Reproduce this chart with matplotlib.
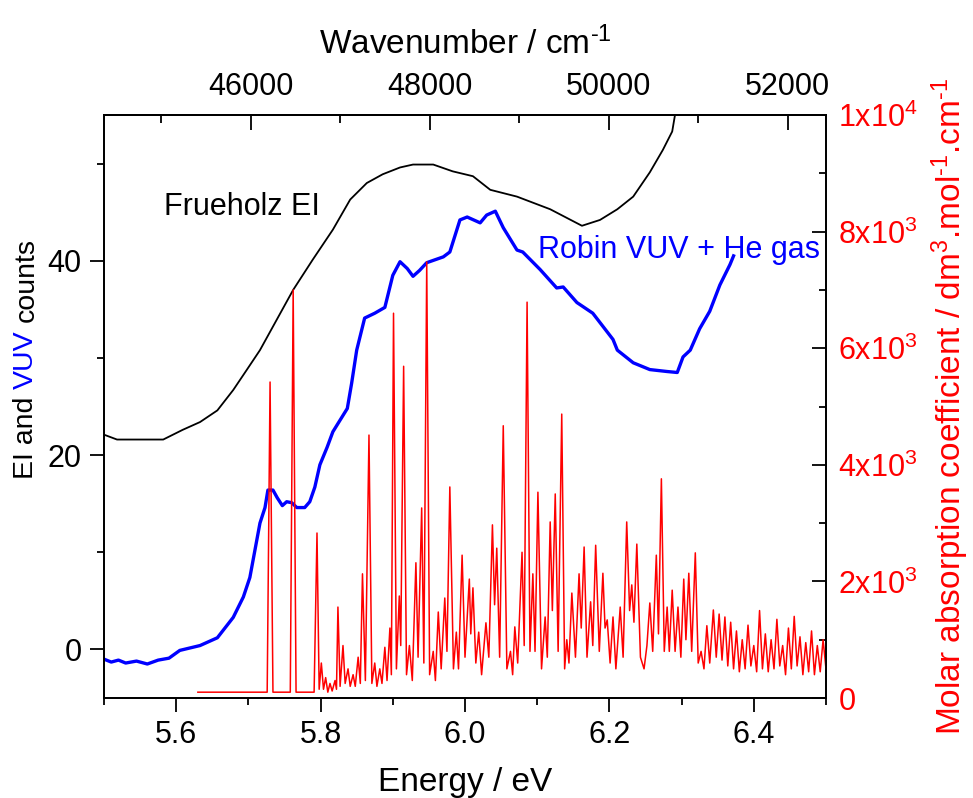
import matplotlib
matplotlib.use("Agg")
import matplotlib.pyplot as plt
from matplotlib.ticker import MultipleLocator, FixedLocator, FixedFormatter

plt.rcParams['font.family'] = 'Liberation Sans'
plt.rcParams['mathtext.fontset'] = 'custom'
plt.rcParams['mathtext.rm'] = 'Liberation Sans'
plt.rcParams['mathtext.it'] = 'Liberation Sans'

# Frueholz electron impact spectrum (counts)
ei_energy = [5.500, 5.518, 5.582, 5.609, 5.633, 5.657, 5.679, 5.698, 5.716, 5.762,
             5.789, 5.817, 5.841, 5.864, 5.886, 5.910, 5.928, 5.956, 5.983, 6.011,
             6.035, 6.072, 6.118, 6.162, 6.187, 6.211, 6.233, 6.256, 6.274, 6.287, 6.292]
ei_counts = [22.1, 21.6, 21.6, 22.6, 23.4, 24.6, 26.7, 28.8, 30.8, 37.0,
             40.1, 43.2, 46.3, 48.0, 48.9, 49.6, 49.9, 49.9, 49.2, 48.7,
             47.3, 46.6, 45.3, 43.6, 44.2, 45.3, 46.6, 49.1, 51.4, 53.3, 55.5]

# Robin VUV spectrum with He gas (counts)
vuv_energy = [5.500, 5.510, 5.520, 5.530, 5.545, 5.560, 5.575, 5.590, 5.605, 5.633,
              5.657, 5.679, 5.693, 5.702, 5.709, 5.716, 5.723, 5.727, 5.734, 5.740,
              5.747, 5.753, 5.760, 5.767, 5.778, 5.785, 5.792, 5.799, 5.809, 5.817,
              5.827, 5.837, 5.843, 5.850, 5.861, 5.875, 5.889, 5.900, 5.910, 5.920,
              5.928, 5.937, 5.947, 5.970, 5.979, 5.993, 6.003, 6.021, 6.030, 6.042,
              6.053, 6.072, 6.080, 6.104, 6.127, 6.136, 6.155, 6.177, 6.205, 6.211,
              6.233, 6.256, 6.280, 6.294, 6.302, 6.312, 6.325, 6.339, 6.353, 6.367, 6.372]
vuv_counts = [-1.0, -1.3, -1.1, -1.4, -1.2, -1.5, -1.1, -0.9, -0.1, 0.4,
              1.2, 3.3, 5.4, 7.4, 10.2, 13.0, 14.6, 16.4, 16.4, 15.6,
              14.8, 15.2, 15.1, 14.6, 14.6, 15.2, 16.7, 19.0, 20.8, 22.4,
              23.6, 24.8, 27.4, 30.8, 34.1, 34.6, 35.2, 38.5, 39.9, 39.2,
              38.4, 39.0, 39.8, 40.4, 40.9, 44.2, 44.5, 43.9, 44.7, 45.1,
              43.4, 41.1, 40.9, 39.1, 37.2, 37.3, 35.7, 34.6, 31.9, 30.8,
              29.5, 28.8, 28.6, 28.5, 30.1, 30.8, 33.0, 34.8, 37.5, 39.6, 40.5]

# calculated absorption spectrum: peak tops and troughs (dm3 mol-1 cm-1)
abs_energy = [5.630, 5.726, 5.730, 5.734, 5.758, 5.762, 5.766, 5.791, 5.795, 5.798,
              5.801, 5.804, 5.807, 5.810, 5.813, 5.816, 5.820, 5.822, 5.824, 5.827,
              5.831, 5.834, 5.838, 5.841, 5.845, 5.848, 5.852, 5.855, 5.858, 5.862,
              5.867, 5.871, 5.875, 5.878, 5.882, 5.885, 5.889, 5.892, 5.896, 5.898,
              5.901, 5.905, 5.909, 5.911, 5.915, 5.919, 5.923, 5.927, 5.932, 5.935,
              5.940, 5.943, 5.947, 5.951, 5.956, 5.959, 5.963, 5.967, 5.972, 5.975,
              5.979, 5.984, 5.988, 5.991, 5.996, 6.000, 6.006, 6.008, 6.011, 6.015,
              6.019, 6.023, 6.029, 6.033, 6.038, 6.041, 6.044, 6.048, 6.053, 6.058,
              6.063, 6.066, 6.069, 6.073, 6.079, 6.082, 6.086, 6.090, 6.094, 6.097,
              6.101, 6.106, 6.111, 6.114, 6.118, 6.121, 6.125, 6.129, 6.134, 6.138,
              6.141, 6.144, 6.148, 6.153, 6.158, 6.161, 6.165, 6.169, 6.174, 6.177,
              6.181, 6.186, 6.191, 6.194, 6.197, 6.201, 6.205, 6.209, 6.215, 6.219,
              6.224, 6.228, 6.231, 6.234, 6.238, 6.243, 6.248, 6.252, 6.256, 6.260,
              6.265, 6.268, 6.272, 6.276, 6.280, 6.283, 6.287, 6.291, 6.295, 6.299,
              6.303, 6.306, 6.310, 6.314, 6.319, 6.323, 6.327, 6.331, 6.335, 6.339,
              6.344, 6.348, 6.352, 6.356, 6.360, 6.364, 6.368, 6.372, 6.376, 6.380,
              6.384, 6.388, 6.392, 6.396, 6.400, 6.404, 6.408, 6.412, 6.416, 6.420,
              6.424, 6.428, 6.432, 6.436, 6.440, 6.444, 6.448, 6.452, 6.456, 6.460,
              6.464, 6.468, 6.472, 6.476, 6.480, 6.484, 6.488, 6.492, 6.496, 6.500]
abs_coeff = [100, 100, 5420, 100, 100, 7000, 100, 100, 2830, 150,
             600, 150, 350, 100, 250, 120, 300, 150, 1560, 200,
             900, 250, 500, 200, 400, 200, 700, 250, 2130, 300,
             4510, 250, 600, 200, 500, 250, 870, 300, 1200, 400,
             6600, 500, 1750, 900, 5690, 400, 900, 300, 2320, 700,
             3260, 600, 7480, 400, 800, 300, 1475, 500, 1715, 800,
             3620, 500, 1130, 500, 2450, 700, 2040, 1100, 1890, 600,
             1130, 400, 1290, 700, 2970, 1600, 2570, 700, 4670, 500,
             800, 400, 1220, 600, 2500, 900, 6790, 800, 2130, 800,
             3530, 500, 1390, 700, 3020, 1500, 3500, 800, 4870, 500,
             1000, 600, 1800, 700, 2130, 1200, 2590, 700, 1650, 900,
             2620, 800, 2140, 1200, 1340, 600, 1390, 500, 1560, 700,
             3020, 1500, 1940, 1300, 2640, 700, 500, 900, 1630, 800,
             2450, 1100, 3760, 800, 1560, 800, 1850, 800, 1560, 700,
             2040, 1000, 2140, 800, 2490, 600, 800, 500, 1240, 600,
             1510, 700, 1440, 650, 1390, 550, 1300, 500, 1150, 450,
             1000, 500, 1250, 550, 900, 450, 1500, 500, 1100, 450,
             1000, 500, 1350, 550, 900, 400, 1200, 500, 1400, 550,
             1050, 400, 950, 450, 1150, 400, 900, 450, 1000, 500]

EV_TO_CM = 8065.54

fig = plt.figure(figsize=(9.73, 7.98), dpi=100)
ax = fig.add_axes([0.1069, 0.1253, 0.7420, 0.7306])
ax2 = ax.twinx()

ax.plot(ei_energy, ei_counts, color='black', lw=1.3)
ax.plot(vuv_energy, vuv_counts, color='#0000ff', lw=2.4)
ax2.plot(abs_energy, abs_coeff, color='#ff0000', lw=1.1)

ax.set_xlim(5.5, 6.5)
ax.set_ylim(-5, 55)
ax2.set_ylim(0, 10000)

fs = 22        # tick labels and curve names
fs_title = 24  # axis titles

ax.xaxis.set_minor_locator(MultipleLocator(0.1))
ax.yaxis.set_minor_locator(MultipleLocator(10))
ax.set_xticks([5.6, 5.8, 6.0, 6.2, 6.4])
ax.set_xticklabels(['5.6', '5.8', '6.0', '6.2', '6.4'])
ax.set_yticks([0, 20, 40])
ax.tick_params(axis='both', which='major', direction='out', length=10, width=1.3,
               labelsize=fs, pad=6)
ax.tick_params(axis='both', which='minor', direction='out', length=5, width=1.3)

ax2.yaxis.set_major_locator(FixedLocator([0, 2000, 4000, 6000, 8000, 10000]))
ax2.yaxis.set_major_formatter(FixedFormatter(['0', '2x10$^3$', '4x10$^3$', '6x10$^3$',
                                              '8x10$^3$', '1x10$^4$']))
ax2.yaxis.set_minor_locator(MultipleLocator(1000))
ax2.tick_params(axis='y', which='major', direction='in', length=10, width=1.3,
                labelsize=fs, labelcolor='#ff0000', pad=9)
ax2.tick_params(axis='y', which='minor', direction='in', length=5, width=1.3)

# wavenumber scale along the top
top = ax.secondary_xaxis('top', functions=(lambda e: e * EV_TO_CM, lambda w: w / EV_TO_CM))
top.set_xticks([46000, 48000, 50000, 52000])
top.set_xticklabels(['46000', '48000', '50000', '52000'])
top.xaxis.set_minor_locator(FixedLocator([45000, 47000, 49000, 51000]))
top.tick_params(axis='x', which='major', direction='in', length=11, width=1.3,
                labelsize=fs, pad=9)
top.tick_params(axis='x', which='minor', direction='in', length=6, width=1.3)
top.set_xlabel(r'Wavenumber / cm$^{\text{-1}}$', fontsize=fs_title, labelpad=13)

for a in (ax, ax2):
    for s in a.spines.values():
        s.set_linewidth(1.3)
top.spines['top'].set_linewidth(1.3)

ax.set_xlabel('Energy / eV', fontsize=fs_title, labelpad=12)
ax2.set_ylabel(r'Molar absorption coefficient / dm$^3$.mol$^{\text{-1}}$.cm$^{\text{-1}}$',
               fontsize=fs_title, color='#ff0000', labelpad=8)

ax.text(5.583, 45.5, 'Frueholz EI', fontsize=fs, color='black', ha='left', va='center')
ax.text(6.492, 41.1, 'Robin VUV + He gas', fontsize=fs, color='#0000ff',
        ha='right', va='center')

# left axis title with the VUV part in blue
fs_left = 20.5
t1 = fig.text(0.027, 0.40, 'EI and', fontsize=fs_left, rotation=90,
              ha='center', va='bottom', color='black')
t2 = ax.annotate('VUV', xy=(0.5, 1), xycoords=t1, xytext=(0, 5.7),
                 textcoords='offset points', fontsize=fs_left, rotation=90,
                 ha='center', va='bottom', color='#0000ff', annotation_clip=False)
t3 = ax.annotate('counts', xy=(0.5, 1), xycoords=t2, xytext=(0, 5.7),
                 textcoords='offset points', fontsize=fs_left, rotation=90,
                 ha='center', va='bottom', color='black', annotation_clip=False)

fig.savefig('out.png', dpi=100)
